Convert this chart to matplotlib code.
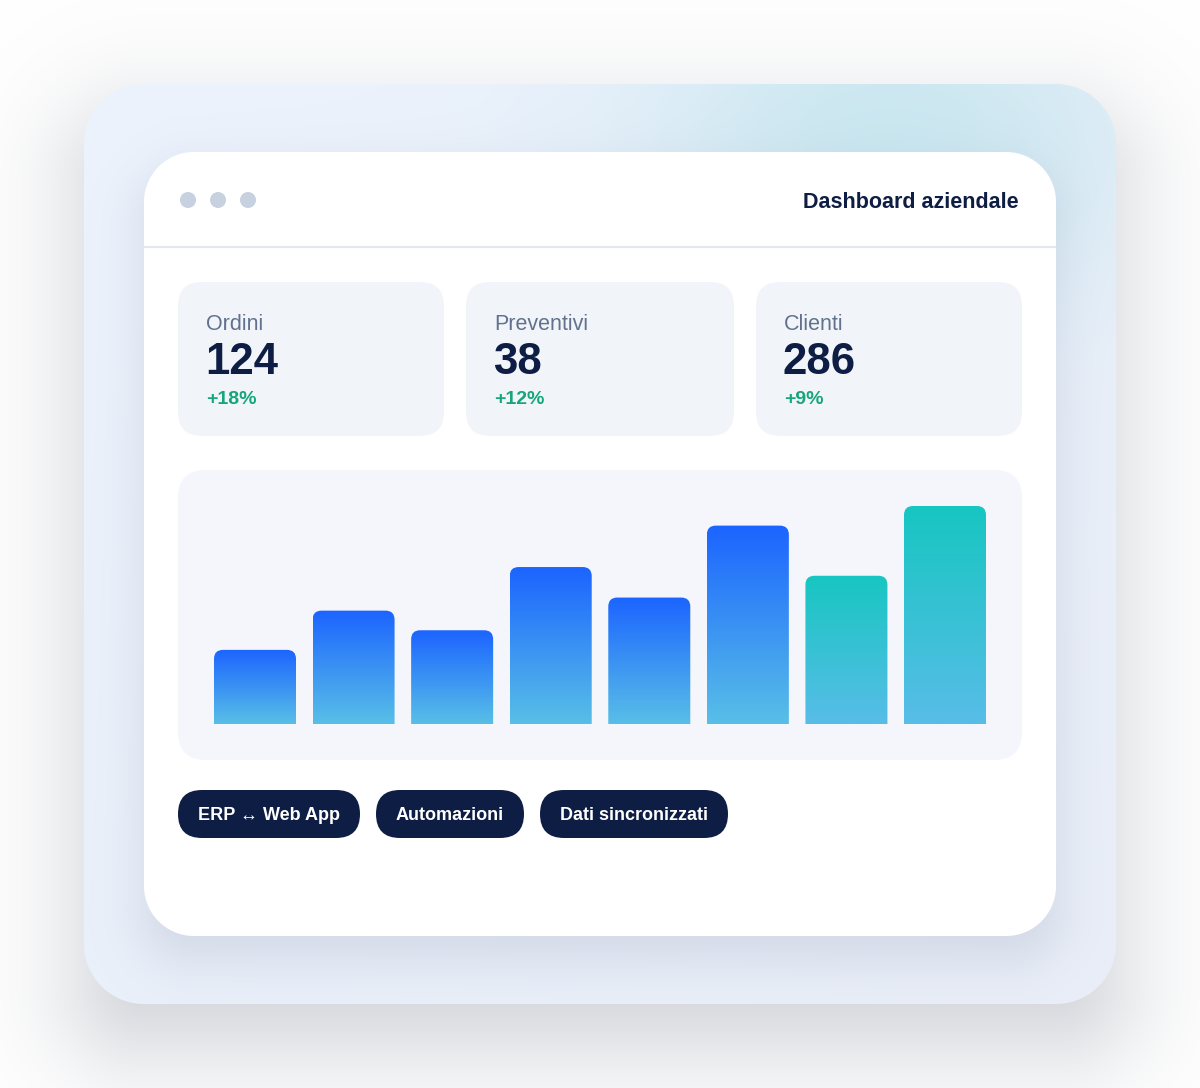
'''
dashboard mockup: kpi cards + gradient bar chart
'''

import numpy as np
import matplotlib
matplotlib.use('Agg')
import matplotlib.pyplot as plt
from matplotlib.patches import FancyBboxPatch, Circle
from matplotlib.colors import to_rgb

plt.rcParams['font.family'] = ['Liberation Sans', 'DejaVu Sans']

title = 'Dashboard aziendale'
kpi_labels = ['Ordini', 'Preventivi', 'Clienti']
kpi_values = ['124', '38', '286']
kpi_deltas = ['+18%', '+12%', '+9%']
bar_values = [34, 52, 43, 72, 58, 91, 68, 100]
bar_series = ['blue'] * 6 + ['teal'] * 2
tags = ['ERP \u2194 Web App', 'Automazioni', 'Dati sincronizzati']

NAVY = '#0e1d44'
W, H = 1200, 1088

yy, xx = np.mgrid[0:H, 0:W] + 0.5


def rrect_dist(x0, y0, x1, y1, r):
    #signed distance to a rounded rectangle (pixels)
    cx, cy = (x0 + x1) / 2, (y0 + y1) / 2
    qx = np.abs(xx - cx) - ((x1 - x0) / 2 - r)
    qy = np.abs(yy - cy) - ((y1 - y0) / 2 - r)
    out = np.hypot(np.maximum(qx, 0), np.maximum(qy, 0))
    return out + np.minimum(np.maximum(qx, qy), 0) - r


def over(img, color, a):
    c = np.array(to_rgb(color))
    img[:] = img * (1 - a[..., None]) + c * a[..., None]


# ---- background image: shadows, frame, glow, card ----
img = np.ones((H, W, 3))
over(img, '#1b2642', 0.22 / (1 + np.exp(rrect_dist(84, 124, 1116, 1044, 60) / 35)))

t = np.clip(((xx - 84) / 1032 + (yy - 84) / 920) / 2, 0, 1)
frame = (1 - t[..., None]) * np.array(to_rgb('#ecf3fd')) + t[..., None] * np.array(to_rgb('#e9eef8'))
glow = 0.7 * np.exp(-(((xx - 890) / 175) ** 2 + ((yy - 135) / 120) ** 2) / 2)
over(frame, '#bde3ec', glow)
over(frame, '#1b2b52', 0.12 / (1 + np.exp(rrect_dist(144, 172, 1056, 958, 50) / 16)))
cov = np.clip(0.5 - rrect_dist(84, 84, 1116, 1004, 60), 0, 1)
img[:] = img * (1 - cov[..., None]) + frame * cov[..., None]
over(img, '#ffffff', np.clip(0.5 - rrect_dist(144, 152, 1056, 936, 50), 0, 1))

fig = plt.figure(figsize=(W / 100, H / 100), dpi=100)
ax_bg = fig.add_axes([0, 0, 1, 1])
ax_bg.imshow(img, extent=(0, W, H, 0), interpolation='nearest', aspect='auto')
ax_bg.set_xlim(0, W)
ax_bg.set_ylim(H, 0)
ax_bg.axis('off')


def rbox(x0, y0, x1, y1, r, color):
    ax_bg.add_patch(FancyBboxPatch((x0, y0), x1 - x0, y1 - y0,
                                   boxstyle=f'round,pad=0,rounding_size={r}',
                                   fc=color, ec='none'))


# window header
for cx in [188, 218, 248]:
    ax_bg.add_patch(Circle((cx, 200), 8, fc='#c7d1e0', ec='none'))
ax_bg.text(1019, 208, title, ha='right', va='baseline', fontsize=15.5,
           fontweight='bold', color=NAVY)
ax_bg.plot([144, 1056], [246.5, 246.5], color='#e2e7f1', lw=1.5, solid_capstyle='butt')

# kpi cards
card_x = [(178, 444), (466, 734), (756, 1022)]
for (x0, x1), lab, val, dlt in zip(card_x, kpi_labels, kpi_values, kpi_deltas):
    rbox(x0, 282, x1, 436, 24, '#f1f5fa')
    ax_bg.text(x0 + 28, 330, lab, va='baseline', fontsize=15.5, color='#62718d')
    ax_bg.text(x0 + 27, 374, val, va='baseline', fontsize=31.5, fontweight='bold', color=NAVY)
    ax_bg.text(x0 + 28, 404, dlt, va='baseline', fontsize=14, fontweight='bold', color='#17a57b')

# chart panel
rbox(178, 470, 1022, 760, 28, '#f4f6fb')

# tags
tag_x = [(178, 360), (376, 524), (540, 728)]
for (x0, x1), tg in zip(tag_x, tags):
    rbox(x0, 790, x1, 838, 24, NAVY)
    ax_bg.text((x0 + x1) / 2, 820, tg, ha='center', va='baseline', fontsize=13,
               fontweight='bold', color='white')

# ---- bar chart ----
step = 98.57       # px per bar slot
px_y = 2.18        # px per value unit
ymax = (724 - 470) / px_y
ax = fig.add_axes([178 / W, 1 - 724 / H, 844 / W, (724 - 470) / H], zorder=2)
ax.patch.set_visible(False)

grads = {'blue': ('#1c64ff', '#58bfe7'), 'teal': ('#17c6c1', '#58bde8')}
bw = 82 / step
rs = 9 / step
for i, (v, s) in enumerate(zip(bar_values, bar_series)):
    top, bot = [np.array(to_rgb(c)) for c in grads[s]]
    f = np.linspace(0, 1, 128)[:, None, None]
    g = top * (1 - f) + bot * f
    im = ax.imshow(g, extent=(i - bw / 2, i + bw / 2, 0, v), origin='upper',
                   aspect='auto', interpolation='bilinear')
    clip = FancyBboxPatch((i - bw / 2, -10), bw, v + 10,
                          boxstyle=f'round,pad=0,rounding_size={rs}',
                          mutation_aspect=step / px_y, fc='none', ec='none',
                          transform=ax.transData)
    ax.add_patch(clip)
    im.set_clip_path(clip)

ax.set_xlim(-(255 - 178) / step, len(bar_values) - 1 + (1022 - 945) / step)
ax.set_ylim(0, ymax)
ax.axis('off')

fig.savefig('out.png', dpi=100)
